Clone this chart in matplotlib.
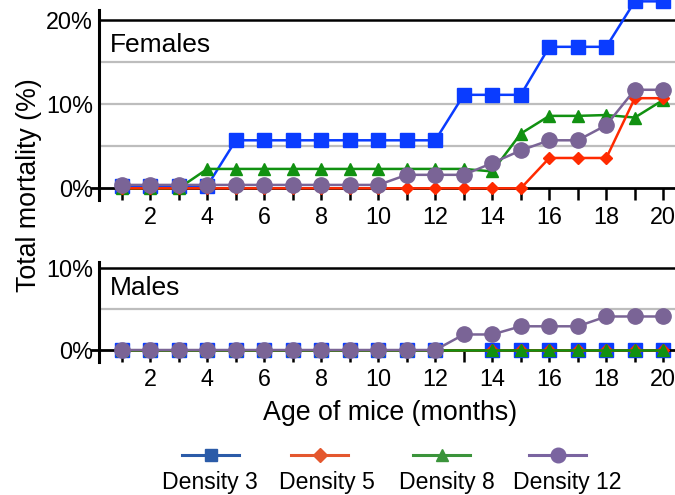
import matplotlib
matplotlib.use("Agg")
import matplotlib.pyplot as plt
from matplotlib.ticker import FixedLocator, FixedFormatter

plt.rcParams['font.family'] = ['Liberation Sans', 'DejaVu Sans']

# ---------------- data ----------------
months = list(range(1, 21))
xtick_labels = [str(m) if m % 2 == 0 else '' for m in months]

series_names = ['Density 3', 'Density 5', 'Density 8', 'Density 12']

female_d3 = [0.3, 0.3, 0.3, 0.3, 5.7, 5.7, 5.7, 5.7, 5.7, 5.7, 5.7, 5.7,
             11.1, 11.1, 11.1, 16.8, 16.8, 16.8, 22.2, 22.2]
female_d5 = [0, 0, 0, 0, 0, 0, 0, 0, 0, 0, 0, 0, 0, 0, 0,
             3.6, 3.6, 3.6, 10.7, 10.7]
female_d8 = [0, 0, 0, 2.3, 2.3, 2.3, 2.3, 2.3, 2.3, 2.3, 2.3, 2.3, 2.3,
             2.0, 6.5, 8.6, 8.6, 8.7, 8.4, 10.5]
female_d12 = [0.4, 0.4, 0.4, 0.4, 0.4, 0.4, 0.4, 0.4, 0.4, 0.4,
              1.6, 1.6, 1.6, 3.0, 4.5, 5.7, 5.7, 7.5, 11.7, 11.7]

male_d3 = [0] * 20
male_d5 = [0] * 20
male_d8 = [0] * 20
male_d12 = [0, 0, 0, 0, 0, 0, 0, 0, 0, 0, 0, 0,
            1.9, 1.9, 2.9, 2.9, 2.9, 4.1, 4.1, 4.1]
male_missing_marker_month = 13  # no markers for densities 3, 5, 8

female_series = [female_d3, female_d5, female_d8, female_d12]
male_series = [male_d3, male_d5, male_d8, male_d12]

# ---------------- styles ----------------
line_colors = ['#0a3cff', '#ff2a00', '#119111', '#7a6496']
legend_colors = ['#2b5ba8', '#e4572e', '#3b943b', '#7a64a0']
markers = ['s', 'D', '^', 'o']
msizes = [9.5, 6.3, 9.0, 11.0]
female_z = [2, 4, 3, 5]
male_z = [2, 3, 4, 5]

W, H = 675, 495
fig = plt.figure(figsize=(W / 100, H / 100), dpi=100)


def px_axes(left, top, right, bottom):
    return fig.add_axes([left / W, 1 - bottom / H, (right - left) / W, (bottom - top) / H])


XLIM = (0.21, 20.41)

ax_f = px_axes(99.3, 0, 675, 200)
ax_m = px_axes(99.3, 261.7, 675, 361.7)


def style_axes(ax, ylim, grid_vals, top_val, spine_top, yticks):
    ax.set_xlim(*XLIM)
    ax.set_ylim(*ylim)
    for s in ['top', 'right']:
        ax.spines[s].set_visible(False)
    ax.spines['bottom'].set_position(('data', 0))
    ax.spines['bottom'].set_linewidth(2.0)
    ax.spines['bottom'].set_bounds(-0.04, XLIM[1])
    ax.spines['left'].set_linewidth(2.2)
    ax.spines['left'].set_bounds(ylim[0], spine_top)
    for g in grid_vals:
        ax.axhline(g, color='#bdbdbd', lw=1.6, zorder=0.5)
    ax.axhline(top_val, color='black', lw=1.8, zorder=0.6)
    ax.xaxis.set_major_locator(FixedLocator(months))
    ax.xaxis.set_major_formatter(FixedFormatter(xtick_labels))
    ax.tick_params(axis='x', direction='out', length=8.5, width=1.8,
                   labelsize=16.8, pad=4.5)
    ax.set_yticks(yticks)
    ax.set_yticklabels([f'{v}%' for v in yticks])
    ax.tick_params(axis='y', length=0, labelsize=16.8, pad=4.5)
    ax.set_facecolor('none')


style_axes(ax_f, (-1.39, 22.36), [5, 10, 15], 20, 21.2, [0, 10, 20])
style_axes(ax_m, (-1.43, 10.8), [5], 10, 10.8, [0, 10])

for i in range(4):
    ax_f.plot(months, female_series[i], color=line_colors[i], lw=1.8,
              marker=markers[i], ms=msizes[i], mec=line_colors[i],
              zorder=female_z[i], clip_on=True)
    if i < 3:
        mevery = [k for k, m in enumerate(months) if m != male_missing_marker_month]
    else:
        mevery = None
    ax_m.plot(months, male_series[i], color=line_colors[i], lw=1.8,
              marker=markers[i], ms=msizes[i], mec=line_colors[i],
              markevery=mevery, zorder=male_z[i], clip_on=False)

ax_f.text(110 / W, 1 - 45 / H, 'Females', transform=fig.transFigure,
          fontsize=19, va='center', ha='left')
ax_m.text(110 / W, 1 - 288 / H, 'Males', transform=fig.transFigure,
          fontsize=19, va='center', ha='left')

fig.text(29 / W, 1 - 185 / H, 'Total mortality (%)', rotation=90,
         fontsize=19.3, ha='center', va='center')
fig.text(390 / W, 1 - 413 / H, 'Age of mice (months)', fontsize=19.3,
         ha='center', va='center')

# ---------------- legend (handle above label) ----------------
ax_leg = fig.add_axes([0, 0, 1, 1], zorder=-1)
ax_leg.set_xlim(0, W)
ax_leg.set_ylim(H, 0)
ax_leg.axis('off')
handle_cx = [211, 320, 442, 558]
label_cx = [210, 327, 447, 567]
leg_ms = [8.5, 7.0, 9.0, 10.5]
for i in range(4):
    ax_leg.plot([handle_cx[i] - 29, handle_cx[i] + 28], [455, 455],
                color=legend_colors[i], lw=2.2)
    ax_leg.plot([handle_cx[i]], [455], marker=markers[i], ms=leg_ms[i],
                color=legend_colors[i], mec=legend_colors[i])
    ax_leg.text(label_cx[i], 482, series_names[i], fontsize=16.6,
                ha='center', va='center')

fig.savefig('out.png', dpi=100)
